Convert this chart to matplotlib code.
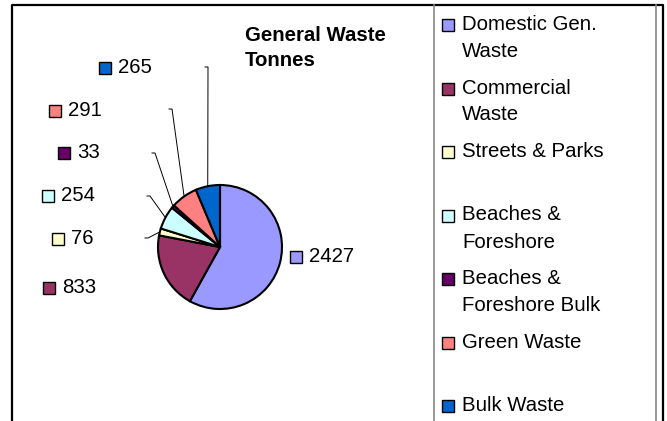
import numpy as np
import matplotlib
matplotlib.use("Agg")
import matplotlib.pyplot as plt
from matplotlib.patches import Rectangle

# data
categories = ["Domestic Gen.\nWaste", "Commercial\nWaste", "Streets & Parks",
              "Beaches &\nForeshore", "Beaches &\nForeshore Bulk",
              "Green Waste", "Bulk Waste"]
tonnes = [2427, 833, 76, 254, 33, 291, 265]
colours = ["#9999FF", "#993366", "#FFFFCC", "#CCFFFF", "#660066", "#FF8080", "#0066CC"]
titre = "General Waste\nTonnes"

# layout, in image pixels (y measured from the top)
W, H = 667, 421
centre = (220, 247)
rayon = 62
# left edge of the label marker, text baseline
label_pos = [(290, 262), (43, 293), (52, 244), (42, 201), (58, 158), (49, 116), (99, 73)]
# top end of the leader lines
leader_top = [None, None, (148, 238), (150, 196), (155, 153), (172, 109), (208, 67)]
police = "Liberation Sans"
taille = 14.7


def Y(y):
    return H - y


fig = plt.figure(figsize=(W / 100, H / 100), dpi=100)
ax = fig.add_axes([0, 0, 1, 1])

wedges, _ = ax.pie(tonnes, colors=colours, startangle=90, counterclock=False,
                   center=(centre[0], Y(centre[1])), radius=rayon,
                   wedgeprops=dict(edgecolor="black", linewidth=1.5))

ax.set_xlim(0, W)
ax.set_ylim(0, H)
ax.set_aspect("auto")
ax.axis("off")

# data labels with small colour squares
for w, val, c, pos, top in zip(wedges, tonnes, colours, label_pos, leader_top):
    x, base = pos
    ax.add_patch(Rectangle((x, Y(base + 1)), 12, 12, facecolor=c, edgecolor="black", linewidth=1))
    ax.text(x + 19, Y(base), str(val), fontsize=taille, family=police, va="baseline", ha="left")
    if top is not None:
        ang = np.deg2rad((w.theta1 + w.theta2) / 2)
        ex = centre[0] + rayon * np.cos(ang)
        ey = Y(centre[1]) + rayon * np.sin(ang)
        ax.plot([top[0] - 3, top[0], ex], [Y(top[1]), Y(top[1]), ey], color="black", linewidth=0.7)

# title
for i, ligne in enumerate(titre.split("\n")):
    ax.text(245, Y(41 + 25 * i), ligne, fontsize=taille, family=police, weight="bold", va="baseline")

# legend
for i, (nom, c) in enumerate(zip(categories, colours)):
    base = 30 + 63.5 * i
    ax.add_patch(Rectangle((442, Y(base + 1)), 12, 12, facecolor=c, edgecolor="black", linewidth=1))
    for j, ligne in enumerate(nom.split("\n")):
        ax.text(462, Y(base + 27 * j), ligne, fontsize=taille, family=police, va="baseline")

# frames
ax.plot([12, 12, 663, 663], [Y(H + 5), Y(5), Y(5), Y(H + 5)], color="black", linewidth=1.6, clip_on=False)
ax.plot([434, 434], [Y(5), Y(H + 5)], color="#888888", linewidth=1.2)
ax.plot([656, 656], [Y(5), Y(H + 5)], color="#888888", linewidth=1.2)

fig.savefig("out.png", dpi=100)
